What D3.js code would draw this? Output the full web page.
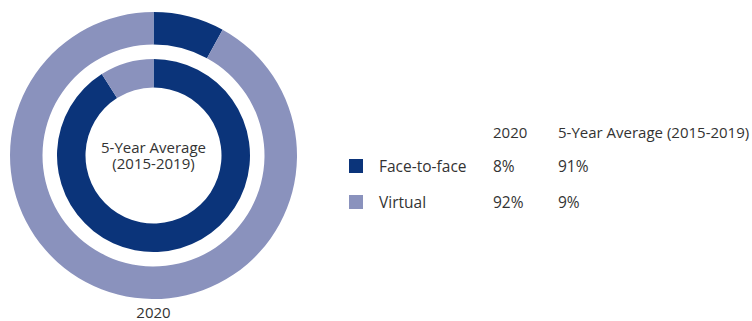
<!DOCTYPE html>
<html>
<head>
<meta charset="utf-8">
<script src="https://cdn.jsdelivr.net/npm/d3@7"></script>
<style>
  body { margin: 0; background: #fff; }
  text { font-family: "Open Sans", "Noto Sans", sans-serif; fill: #333; }
</style>
</head>
<body>
<div id="chart"></div>
<script>
// categories and series
const categories = ["Face-to-face", "Virtual"];
const values2020 = [8, 92];
const valuesAvg = [91, 9];
const colors = ["#0b347a", "#8a92bd"];
const seriesLabels = ["2020", "5-Year Average (2015-2019)"];

const width = 752, height = 321;
const cx = 153.5, cy = 155.5;

const svg = d3.select("#chart")
  .append("svg")
  .attr("width", width)
  .attr("height", height);

const color = d3.scaleOrdinal().domain(categories).range(colors);

const pie = d3.pie().sort(null).value(d => d.value);

function ring(values, inner, outer) {
  const data = categories.map((c, i) => ({ cat: c, value: values[i] }));
  const arc = d3.arc().innerRadius(inner).outerRadius(outer);
  svg.append("g")
    .attr("transform", "translate(" + cx + "," + cy + ")")
    .selectAll("path")
    .data(pie(data))
    .join("path")
    .attr("d", arc)
    .attr("fill", d => color(d.data.cat));
}

// outer ring = 2020, inner ring = 5-year average
ring(values2020, 111, 143.5);
ring(valuesAvg, 68, 96.5);

// centre label
const centre = svg.append("text")
  .attr("text-anchor", "middle")
  .style("font-size", "15px");
centre.append("tspan").attr("x", cx).attr("y", cy - 3).text("5-Year Average");
centre.append("tspan").attr("x", cx).attr("y", cy + 13).text("(2015-2019)");

// label below the outer ring
svg.append("text")
  .attr("x", cx)
  .attr("y", 318)
  .attr("text-anchor", "middle")
  .style("font-size", "15px")
  .text(seriesLabels[0]);

// legend table
const colX = [493, 558];
const rowY = d3.scalePoint().domain(categories).range([172, 208]);

svg.selectAll(".head")
  .data(seriesLabels)
  .join("text")
  .attr("class", "head")
  .attr("x", (d, i) => colX[i])
  .attr("y", 138)
  .style("font-size", "15px")
  .text(d => d);

const rows = svg.selectAll(".row")
  .data(categories)
  .join("g")
  .attr("class", "row")
  .attr("transform", d => "translate(0," + rowY(d) + ")");

rows.append("rect")
  .attr("x", 349)
  .attr("y", -13)
  .attr("width", 14)
  .attr("height", 14)
  .attr("fill", d => color(d));

rows.append("text")
  .attr("x", 379)
  .style("font-size", "15.5px")
  .text(d => d);

rows.append("text")
  .attr("x", colX[0])
  .style("font-size", "15.5px")
  .text((d, i) => values2020[i] + "%");

rows.append("text")
  .attr("x", colX[1])
  .style("font-size", "15.5px")
  .text((d, i) => valuesAvg[i] + "%");
</script>
</body>
</html>
